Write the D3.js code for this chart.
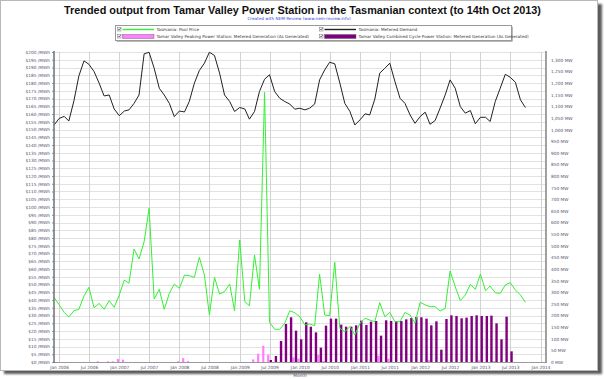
<!DOCTYPE html>
<html>
<head>
<meta charset="utf-8">
<script src="https://cdn.jsdelivr.net/npm/d3@7"></script>
<style>
body { margin: 0; background: #fff; }
svg { display: block; font-family: "DejaVu Sans", Verdana, sans-serif; }
</style>
</head>
<body>
<div id="chart"></div>
<script>
//measurements
var width = 604;
var height = 379;
var plot = { left: 54, right: 546, top: 52, bottom: 362 };

//data (monthly, Dec 2005 .. Oct 2013)
var months = d3.timeMonth.range(new Date(2005, 11, 1), new Date(2013, 10, 1));

// Tasmania: Pool Price ($/MWh)
var poolPrice = [41.7,37.0,32.0,29.0,33.1,34.0,42.6,48.2,35.0,37.8,
    34.0,39.6,35.3,43.2,52.9,50.8,72.9,66.5,77.6,99.2,
    40.6,46.9,34.0,44.3,50.3,47.5,56.1,55.7,54.6,67.5,
    56.1,30.3,54.6,43.9,45.4,50.3,33.1,78.7,38.9,36.3,
    69.0,46.9,174,25.6,21.1,21.1,25.0,33.1,31.8,29.2,
    23.9,24.5,23.4,56.6,30.3,29.9,64.3,21.7,19.6,22.8,
    17.4,25.0,28.2,27.1,26.0,38.3,29.2,32.0,26.0,26.0,
    32.0,30.3,25.0,38.5,36.8,35.7,35.7,32.9,34.6,58.7,
    48.6,39.6,43.2,50.1,46.9,56.6,46.0,49.0,44.7,44.3,
    49.7,51.2,46.5,43.2,38.5];

// Tasmania: Metered Demand (MW)
var demand = [1019,1048,1057,1037,1124,1231,1296,1281,1250,1200,
    1145,1149,1089,1060,1080,1085,1113,1149,1326,1333,
    1264,1178,1149,1113,1056,1080,1076,1121,1200,1254,
    1286,1333,1319,1243,1149,1121,1078,1095,1089,1045,
    1078,1164,1217,1236,1164,1135,1121,1110,1088,1092,
    1085,1092,1110,1214,1257,1290,1283,1200,1113,1078,
    1020,1042,1068,1063,1131,1243,1264,1286,1207,1135,
    1113,1063,1027,1056,1075,1023,1039,1092,1149,1214,
    1178,1099,1071,1082,1025,1053,1053,1035,1121,1178,
    1238,1225,1204,1128,1095];

// Tamar Valley Peaking Power Station (MW)
var peaking = [0,0,0,0,0,0,0,0,0,3,
    0,3,3,13,10,0,0,0,0,0,
    0,0,0,0,0,3,17,4,0,0,
    0,0,0,0,0,0,0,0,0,0,
    11.5,36,70,31.6,0,0,0,0,20,14.3,
    0,0,0,30,4,0,0,0,0,0,
    0,0,0,0,0,27,0,14,0,0,
    0,0,0,0,0,8.6,0,0,0,0,
    0,0,0,0,0,7,0,0,4,0,
    0,0,0,0,0];

// Tamar Valley Combined Cycle Power Station (MW)
var combined = [0,0,0,0,0,0,0,0,0,0,
    0,0,0,0,0,0,0,0,0,0,
    0,0,0,0,0,0,0,0,0,0,
    0,0,0,0,0,0,0,0,0,0,
    0,0,0,8.6,25.8,90.4,163.6,192.3,134.9,97.6,
    170.7,152,127.6,61.7,156.4,186.6,186.6,160.7,152,152,
    157.8,178,159.3,173.6,176.5,113.4,179.4,176.5,176.5,176.5,
    183.6,189.4,193.7,192.3,186.6,157.8,175,53,185,200.8,
    198,188,190.9,198,200.8,198,198,199.4,166.4,97.6,
    195,45.9,0,0,0];

//axis ticks
var priceTicks = d3.range(0, 201, 5);
var mwTicks = d3.range(0, 1301, 50);
var dateTicks = d3.timeMonth.every(6).range(new Date(2006, 0, 1), new Date(2014, 0, 2));

var titleText = "Trended output from Tamar Valley Power Station in the Tasmanian context (to 14th Oct 2013)";
var subTitle = "Created with NEM-Review (www.nem-review.info)";
var legendItems = [
    { name: "Tasmania: Pool Price", kind: "line", color: "#33f033" },
    { name: "Tasmania: Metered Demand", kind: "line", color: "#222" },
    { name: "Tamar Valley Peaking Power Station: Metered Generation (As Generated)", kind: "bar", color: "#ff80ff" },
    { name: "Tamar Valley Combined Cycle Power Station: Metered Generation (As Generated)", kind: "bar", color: "#800080" }
];

//scales
var x = d3.scaleTime()
    .domain([new Date(2005, 11, 1), new Date(2014, 1, 3)])
    .range([plot.left, plot.right]);
var yPrice = d3.scaleLinear().domain([0, 200]).range([plot.bottom, plot.top]);
var yMW = d3.scaleLinear().domain([0, 1334]).range([plot.bottom, plot.top]);

var svg = d3.select("#chart").append("svg")
    .attr("width", width)
    .attr("height", height);

// frame with drop shadow
var defs = svg.append("defs");
defs.append("filter").attr("id", "blur")
    .append("feGaussianBlur").attr("stdDeviation", 1);
svg.append("rect")
    .attr("x", 4).attr("y", 4).attr("width", 598).attr("height", 370)
    .attr("fill", "#5c5c5c").attr("filter", "url(#blur)");
svg.append("rect")
    .attr("x", 0.5).attr("y", 0.5).attr("width", 597).attr("height", 370)
    .attr("fill", "#fff").attr("stroke", "#b8b8b8");

// title
var title = svg.append("text")
    .attr("x", 302.5).attr("y", 13.5)
    .attr("text-anchor", "middle")
    .style("font-family", "'Liberation Sans', Arial, sans-serif")
    .style("font-weight", "bold")
    .style("font-size", "11px")
    .attr("fill", "#111")
    .text(titleText);
var tw = title.node().getComputedTextLength();
title.style("font-size", (11 * 477 / tw) + "px");

svg.append("text")
    .attr("x", 299).attr("y", 20)
    .attr("text-anchor", "middle")
    .style("font-size", "4.2px")
    .attr("fill", "#3344dd")
    .text(subTitle);

// legend
var legend = svg.append("g");
legend.append("rect")
    .attr("x", 116.5).attr("y", 26.5).attr("width", 396).attr("height", 15)
    .attr("fill", "#777");
legend.append("rect")
    .attr("x", 115.5).attr("y", 25.5).attr("width", 396).attr("height", 15)
    .attr("fill", "#fff").attr("stroke", "#999");

var legendCols = [117, 319];
var legendRows = [29.5, 36.5];
legendItems.forEach(function (item, i) {
    var cx = legendCols[i % 2];
    var cy = legendRows[Math.floor(i / 2)];
    var g = legend.append("g");
    g.append("rect")
        .attr("x", cx + 0.5).attr("y", cy - 2).attr("width", 3.5).attr("height", 3.5)
        .attr("fill", "#fff").attr("stroke", "#777").attr("stroke-width", 0.5);
    g.append("path")
        .attr("d", "M" + (cx + 1.2) + "," + (cy - 0.4) + " l0.9,1 l1.5,-2.1")
        .attr("fill", "none").attr("stroke", "#222").attr("stroke-width", 0.6);
    if (item.kind == "line") {
        g.append("line")
            .attr("x1", cx + 5.5).attr("x2", cx + 37)
            .attr("y1", cy).attr("y2", cy)
            .attr("stroke", item.color).attr("stroke-width", 1.4);
    } else {
        g.append("rect")
            .attr("x", cx + 5.5).attr("y", cy - 2).attr("width", 31.5).attr("height", 4)
            .attr("fill", item.color).attr("stroke", "#555").attr("stroke-width", 0.4);
    }
    g.append("text")
        .attr("x", cx + 39.5).attr("y", cy + 1.4)
        .style("font-size", "4.2px")
        .attr("fill", "#333")
        .text(item.name);
});

// gridlines
svg.append("g").selectAll("line")
    .data(priceTicks)
    .enter().append("line")
    .attr("x1", plot.left).attr("x2", plot.right)
    .attr("y1", function (d) { return Math.round(yPrice(d)) + 0.5; })
    .attr("y2", function (d) { return Math.round(yPrice(d)) + 0.5; })
    .attr("stroke", "#e2e2e2");

svg.append("g").selectAll("line")
    .data(dateTicks)
    .enter().append("line")
    .attr("x1", function (d) { return Math.round(x(d)) + 0.5; })
    .attr("x2", function (d) { return Math.round(x(d)) + 0.5; })
    .attr("y1", plot.top).attr("y2", plot.bottom)
    .attr("stroke", "#d2d2d2");

// bars
svg.append("g").selectAll("rect")
    .data(months)
    .enter().append("rect")
    .attr("x", function (d) { return x(d) - 2.4; })
    .attr("width", 2.2)
    .attr("y", function (d, i) { return yMW(peaking[i]); })
    .attr("height", function (d, i) { return plot.bottom - yMW(peaking[i]); })
    .attr("fill", "#ff80ff");

svg.append("g").selectAll("rect")
    .data(months)
    .enter().append("rect")
    .attr("x", function (d) { return x(d) + 0.1; })
    .attr("width", 2.4)
    .attr("y", function (d, i) { return yMW(combined[i]); })
    .attr("height", function (d, i) { return plot.bottom - yMW(combined[i]); })
    .attr("fill", "#800080");

// lines
var demandLine = d3.line()
    .x(function (d) { return x(d); })
    .y(function (d, i) { return yMW(demand[i]); });
var priceLine = d3.line()
    .x(function (d) { return x(d); })
    .y(function (d, i) { return yPrice(poolPrice[i]); });

svg.append("path")
    .datum(months)
    .attr("fill", "none")
    .attr("stroke", "#222")
    .attr("stroke-width", 1)
    .attr("stroke-linejoin", "round")
    .attr("d", demandLine);

svg.append("path")
    .datum(months)
    .attr("fill", "none")
    .attr("stroke", "#33f033")
    .attr("stroke-width", 1)
    .attr("stroke-linejoin", "round")
    .attr("d", priceLine);

// axes
var leftAxis = d3.axisLeft(yPrice)
    .tickValues(priceTicks)
    .tickSize(2)
    .tickPadding(2)
    .tickFormat(function (d) { return "$" + d + " /MWh"; });
var rightAxis = d3.axisRight(yMW)
    .tickValues(mwTicks)
    .tickSize(0)
    .tickPadding(5)
    .tickFormat(function (d) { return d3.format(",")(d) + " MW"; });
var bottomAxis = d3.axisBottom(x)
    .tickValues(dateTicks)
    .tickSize(0)
    .tickPadding(4)
    .tickFormat(d3.timeFormat("%b %Y"));

var gl = svg.append("g")
    .attr("transform", "translate(" + plot.left + ",0)")
    .call(leftAxis);
var gr = svg.append("g")
    .attr("transform", "translate(" + plot.right + ",0)")
    .call(rightAxis);
var gb = svg.append("g")
    .attr("transform", "translate(0," + plot.bottom + ")")
    .call(bottomAxis);

[gl, gr, gb].forEach(function (g) {
    g.select(".domain").remove();
    g.selectAll("text")
        .style("font-size", "4.3px")
        .style("font-family", "'DejaVu Sans', Verdana, sans-serif")
        .attr("fill", "#555570");
    g.selectAll(".tick line").attr("stroke", "#8f8fc0");
});

// axis lines
svg.append("line")
    .attr("x1", plot.left).attr("x2", plot.right)
    .attr("y1", plot.bottom + 0.5).attr("y2", plot.bottom + 0.5)
    .attr("stroke", "#9a9a9a");
svg.append("line")
    .attr("x1", plot.left).attr("x2", plot.left)
    .attr("y1", plot.top - 1).attr("y2", plot.bottom + 1)
    .attr("stroke", "#7a7a7a").attr("stroke-width", 1.6);
svg.append("line")
    .attr("x1", plot.right).attr("x2", plot.right)
    .attr("y1", plot.top - 1).attr("y2", plot.bottom + 1)
    .attr("stroke", "#8a8a8a").attr("stroke-width", 1.6);

svg.append("text")
    .attr("x", 300).attr("y", 377)
    .attr("text-anchor", "middle")
    .style("font-size", "4.3px")
    .attr("fill", "#555570")
    .text("Month");
</script>
</body>
</html>
